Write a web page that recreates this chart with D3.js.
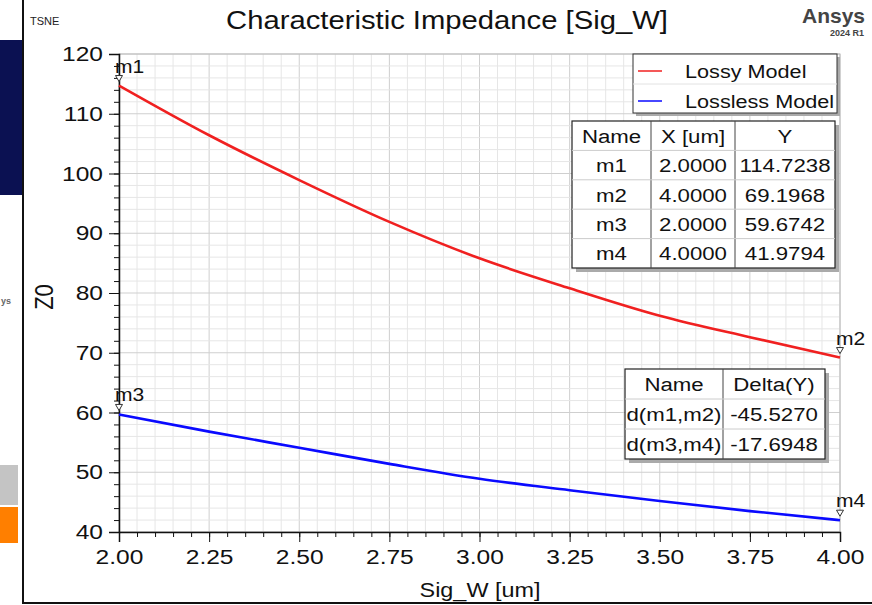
<!DOCTYPE html>
<html>
<head>
<meta charset="utf-8">
<script src="https://cdn.jsdelivr.net/npm/d3@7"></script>
<style>
  body { margin: 0; background: #fff; }
  svg { font-family: "Liberation Sans", Arial, sans-serif; display: block; }
</style>
</head>
<body>
<div id="chart"></div>
<script>
// Data
const sigW = [2.00, 2.25, 2.50, 2.75, 3.00, 3.25, 3.50, 3.75, 4.00];
const lossy = [114.72, 106.4, 98.9, 91.9, 85.8, 80.8, 76.2, 72.6, 69.20];
const lossless = [59.67, 56.8, 54.1, 51.4, 48.9, 47.0, 45.2, 43.5, 41.98];
const xTicks = [2.00, 2.25, 2.50, 2.75, 3.00, 3.25, 3.50, 3.75, 4.00];
const yTicks = [40, 50, 60, 70, 80, 90, 100, 110, 120];
const seriesNames = ['Lossy Model', 'Lossless Model'];
const seriesColors = ['#f02020', '#0a0aff'];
const markerNames = ['m1', 'm2', 'm3', 'm4'];
const markerX = [2.0, 4.0, 2.0, 4.0];
const markerY = [114.7238, 69.1968, 59.6742, 41.9794];
const deltaNames = ['d(m1,m2)', 'd(m3,m4)'];
const deltaValues = [-45.5270, -17.6948];

const svgWidth = 872;
const svgHeight = 605;
const plot = {left: 119, right: 840, top: 54, bottom: 532};
const sx = 1.17; // the screenshot is a bit wider than tall, so text is stretched

const svg = d3.select('#chart').append('svg')
    .attr('width', svgWidth)
    .attr('height', svgHeight);

// Text stretched horizontally around its anchor point
const addText = (parent, tx, ty, str, size, anchor) => {
    return parent.append('g')
        .attr('transform', 'translate(' + tx + ',' + ty + ') scale(' + sx + ',1)')
        .append('text')
        .attr('text-anchor', anchor || 'start')
        .attr('font-size', size)
        .attr('fill', '#111')
        .text(str);
};

// Left strip decoration (part of a neighbouring slide)
svg.append('rect').attr('x', 0).attr('y', 40).attr('width', 23).attr('height', 155).attr('fill', '#0b1152');
svg.append('rect').attr('x', 0).attr('y', 465).attr('width', 18).attr('height', 40).attr('fill', '#c4c4c4');
svg.append('rect').attr('x', 0).attr('y', 507).attr('width', 18).attr('height', 36).attr('fill', '#ff7f00');
svg.append('text').attr('x', 1).attr('y', 304).attr('font-size', 9).attr('font-weight', 'bold').attr('fill', '#666').text('ys');
svg.append('line').attr('x1', 23).attr('x2', 23).attr('y1', 0).attr('y2', 604).attr('stroke', '#111').attr('stroke-width', 2);
svg.append('line').attr('x1', 23).attr('x2', 872).attr('y1', 603).attr('y2', 603).attr('stroke', '#111').attr('stroke-width', 2);

const x = d3.scaleLinear().domain([2, 4]).range([plot.left, plot.right]);
const y = d3.scaleLinear().domain([40, 120]).range([plot.bottom, plot.top]);

// Grid lines
const g = svg.append('g');
const xMinor = d3.range(0, 41).map(i => 2 + i * 0.05);
const yMinor = d3.range(0, 41).map(i => 40 + i * 2);
g.selectAll('line.vgrid').data(xMinor).enter().append('line')
    .attr('x1', d => x(d)).attr('x2', d => x(d))
    .attr('y1', plot.top).attr('y2', plot.bottom)
    .attr('stroke', (d, i) => i % 5 === 0 ? '#cfcfcf' : '#e6e6e6')
    .attr('stroke-width', 1);
g.selectAll('line.hgrid').data(yMinor).enter().append('line')
    .attr('y1', d => y(d)).attr('y2', d => y(d))
    .attr('x1', plot.left).attr('x2', plot.right)
    .attr('stroke', (d, i) => i % 5 === 0 ? '#cfcfcf' : '#e6e6e6')
    .attr('stroke-width', 1);
g.append('rect')
    .attr('x', plot.left).attr('y', plot.top)
    .attr('width', plot.right - plot.left).attr('height', plot.bottom - plot.top)
    .attr('fill', 'none').attr('stroke', '#bbb');

// Axes
const xAxis = svg.append('g')
    .attr('transform', 'translate(0,' + plot.bottom + ')')
    .call(d3.axisBottom(x).tickValues(xTicks).tickSize(10).tickPadding(7).tickFormat(d3.format('.2f')));
svg.append('g')
    .attr('transform', 'translate(0,' + plot.bottom + ')')
    .call(d3.axisBottom(x).tickValues(xMinor).tickSize(5).tickFormat(''))
    .select('.domain').remove();
const yAxis = svg.append('g')
    .attr('transform', 'translate(' + plot.left + ',0)')
    .call(d3.axisLeft(y).tickValues(yTicks).tickSize(10).tickPadding(6).tickFormat(d3.format('d')));
svg.append('g')
    .attr('transform', 'translate(' + plot.left + ',0)')
    .call(d3.axisLeft(y).tickValues(yMinor).tickSize(5).tickFormat(''))
    .select('.domain').remove();
svg.selectAll('.tick line').attr('stroke', '#111');
svg.selectAll('.domain').attr('stroke', '#111').attr('stroke-width', 1.5);
[xAxis, yAxis].forEach(a => a.selectAll('text')
    .attr('font-size', 21).attr('fill', '#111')
    .attr('font-family', 'Liberation Sans, Arial, sans-serif'));
xAxis.selectAll('text').attr('transform', 'scale(' + sx + ',1)');
yAxis.selectAll('text').attr('x', -16 / sx).attr('transform', 'scale(' + sx + ',1)');

// Titles
addText(svg, 447, 29, 'Characteristic Impedance [Sig_W]', 25, 'middle');
svg.append('text').attr('x', 30).attr('y', 25).attr('font-size', 11).attr('fill', '#222').text('TSNE');
svg.append('text').attr('x', 865).attr('y', 23).attr('text-anchor', 'end')
    .attr('font-size', 21).attr('font-weight', 'bold').attr('fill', '#444').text('Ansys');
svg.append('text').attr('x', 864).attr('y', 36).attr('text-anchor', 'end')
    .attr('font-size', 9).attr('font-weight', 'bold').attr('fill', '#444').text('2024 R1');
addText(svg, 480, 597, 'Sig_W [um]', 20, 'middle');
svg.append('g').attr('transform', 'translate(53,297) rotate(-90)')
    .append('text').attr('text-anchor', 'middle').attr('font-size', 22).attr('fill', '#111')
    .attr('transform', 'scale(1,' + sx + ')').text('Z0');

// Curves
const line = d3.line()
    .x((d, i) => x(sigW[i]))
    .y(d => y(d))
    .curve(d3.curveMonotoneX);
[lossy, lossless].forEach((s, k) => {
    svg.append('path').datum(s)
        .attr('d', line)
        .attr('fill', 'none')
        .attr('stroke', seriesColors[k])
        .attr('stroke-width', 2.6);
});

// Markers
markerNames.forEach((name, i) => {
    const px = x(markerX[i]);
    const py = y(markerY[i]);
    svg.append('path')
        .attr('d', 'M' + (px - 3.5) + ',' + (py - 10) + 'L' + (px + 3.5) + ',' + (py - 10) + 'L' + px + ',' + (py - 4) + 'Z')
        .attr('fill', '#fff').attr('stroke', '#333').attr('stroke-width', 1);
    addText(svg, px - 4, py - 13, name, 18);
});

// Legend
const legend = svg.append('g');
legend.append('rect').attr('x', 636).attr('y', 57).attr('width', 204).attr('height', 59).attr('fill', '#aaa');
legend.append('rect').attr('x', 633).attr('y', 54).attr('width', 204).attr('height', 59)
    .attr('fill', '#fff').attr('stroke', '#333');
legend.append('line').attr('x1', 633).attr('x2', 837).attr('y1', 84).attr('y2', 84).attr('stroke', '#e2e2e2');
seriesNames.forEach((name, i) => {
    const ly = 71 + i * 30;
    legend.append('line').attr('x1', 638).attr('x2', 662).attr('y1', ly).attr('y2', ly)
        .attr('stroke', seriesColors[i]).attr('stroke-width', 1.5);
    addText(legend, 685, ly + 7, name, 18.5);
});

// Tables
const drawTable = (x0, y0, colW, rowH, rows) => {
    const w = d3.sum(colW);
    const h = rowH * rows.length;
    const t = svg.append('g');
    t.append('rect').attr('x', x0 + 4).attr('y', y0 + 4).attr('width', w).attr('height', h).attr('fill', '#aaa');
    t.append('rect').attr('x', x0).attr('y', y0).attr('width', w).attr('height', h)
        .attr('fill', '#fff').attr('stroke', '#222').attr('stroke-width', 1.2);
    let cx = x0;
    colW.forEach((cw, c) => {
        if (c > 0) t.append('line').attr('x1', cx).attr('x2', cx).attr('y1', y0).attr('y2', y0 + h).attr('stroke', '#444');
        rows.forEach((r, j) => {
            addText(t, cx + cw / 2, y0 + j * rowH + rowH / 2 + 7, r[c], 19, 'middle');
        });
        cx += cw;
    });
    rows.forEach((r, j) => {
        if (j > 0) t.append('line').attr('x1', x0).attr('x2', x0 + w)
            .attr('y1', y0 + j * rowH).attr('y2', y0 + j * rowH).attr('stroke', '#ccc');
    });
};
const markerRows = [['Name', 'X [um]', 'Y']].concat(markerNames.map((n, i) =>
    [n, markerX[i].toFixed(4), markerY[i].toFixed(4)]));
drawTable(572, 121, [79, 84, 100], 29.4, markerRows);
const deltaRows = [['Name', 'Delta(Y)']].concat(deltaNames.map((n, i) => [n, deltaValues[i].toFixed(4)]));
drawTable(625, 369, [98, 102], 30, deltaRows);
</script>
</body>
</html>
